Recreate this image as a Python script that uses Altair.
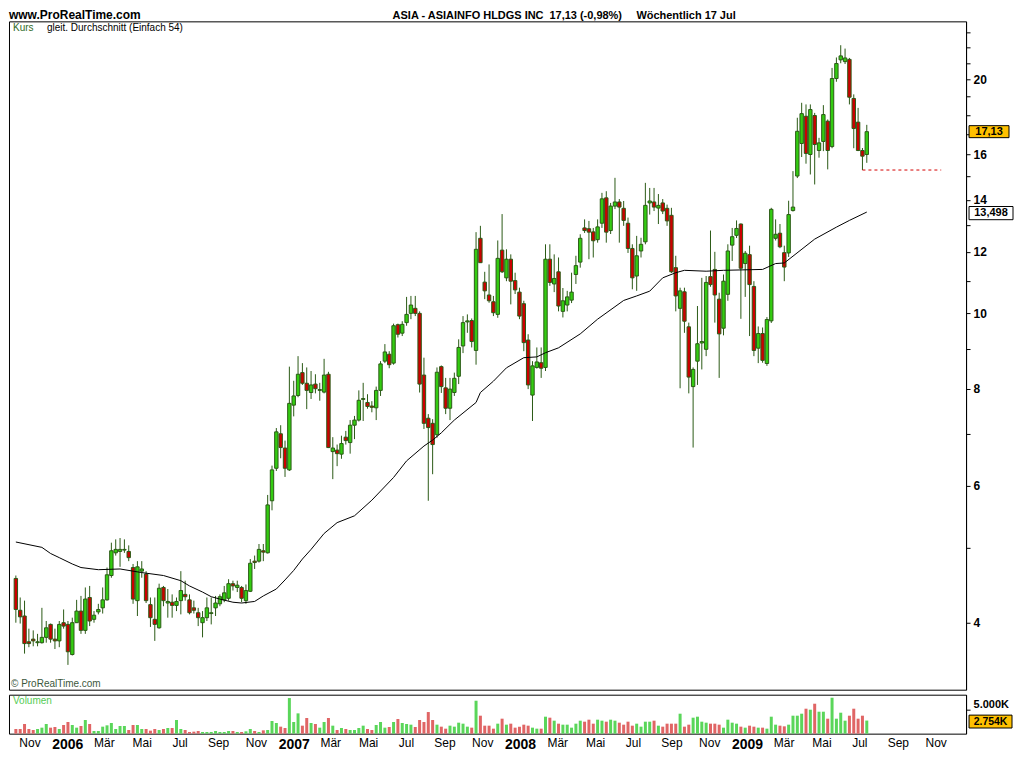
import altair as alt
import pandas as pd

# ---------------- data ----------------
last_week = "2009-07-13"

opens = [4.56, 4.15, 4.08, 3.78, 3.81, 3.77, 3.77, 3.83, 3.98, 3.81,
         3.79, 4.00, 3.98, 3.64, 4.00, 4.14, 3.91, 4.31, 4.04, 4.13,
         4.18, 4.28, 4.60, 4.92, 4.94, 4.96, 4.94, 4.71, 4.27, 4.66,
         4.62, 4.22, 4.04, 3.94, 4.44, 4.24, 4.25, 4.21, 4.27, 4.35,
         4.28, 4.18, 4.12, 4.00, 4.06, 4.11, 4.18, 4.23, 4.28, 4.30,
         4.49, 4.44, 4.44, 4.27, 4.39, 4.80, 4.80, 4.95, 4.92, 5.74,
         6.32, 7.00, 6.71, 6.29, 7.62, 7.84, 8.39, 8.13, 7.91, 8.11,
         7.96, 7.92, 8.35, 6.64, 6.67, 6.59, 6.93, 6.82, 7.18, 7.29,
         7.75, 7.68, 7.60, 7.56, 7.96, 8.68, 8.86, 8.63, 9.67, 9.43,
         9.73, 10.00, 10.15, 10.00, 8.33, 7.33, 7.22, 6.98, 8.54, 8.02,
         7.55, 7.91, 8.30, 9.08, 9.75, 9.79, 8.96, 12.49, 10.97, 10.56,
         10.35, 9.97, 12.06, 11.11, 11.74, 11.02, 10.65, 10.29, 9.24, 7.85,
         8.52, 8.64, 8.52, 11.74, 10.91, 11.31, 10.06, 10.25, 10.40, 11.22,
         11.64, 12.88, 12.85, 12.73, 12.44, 13.06, 14.08, 12.78, 13.74, 13.91,
         13.65, 13.06, 12.12, 11.17, 12.03, 12.36, 13.87, 13.91, 13.66, 13.87,
         13.65, 13.37, 11.45, 10.15, 10.66, 9.61, 8.05, 8.68, 9.16, 8.99,
         11.15, 11.39, 10.43, 9.57, 10.58, 12.24, 12.60, 13.03, 11.59, 11.90,
         10.83, 9.02, 9.42, 8.62, 9.78, 12.49, 12.68, 11.97, 11.96, 13.56,
         15.02, 16.54, 17.93, 16.01, 17.97, 16.20, 16.64, 17.67, 16.39, 20.05,
         21.19, 21.08, 21.22, 18.90, 17.62, 16.20, 16.01]

highs = [4.60, 4.31, 4.27, 3.93, 3.91, 3.87, 4.18, 4.02, 3.99, 3.93,
         4.02, 4.16, 4.02, 4.06, 4.28, 4.33, 4.44, 4.46, 4.14, 4.23,
         4.44, 4.71, 5.07, 5.12, 5.14, 5.12, 5.03, 4.76, 4.80, 4.80,
         4.66, 4.31, 4.31, 4.49, 4.46, 4.42, 4.35, 4.31, 4.66, 4.53,
         4.35, 4.27, 4.18, 4.14, 4.31, 4.31, 4.33, 4.35, 4.46, 4.55,
         4.53, 4.53, 4.46, 4.48, 4.83, 4.88, 5.05, 5.05, 5.84, 6.37,
         7.12, 7.18, 6.86, 8.54, 8.19, 8.81, 8.63, 8.52, 8.43, 8.35,
         8.14, 8.74, 8.41, 6.93, 6.78, 6.96, 7.06, 7.29, 7.38, 7.96,
         8.14, 7.87, 7.71, 8.05, 8.68, 9.13, 8.94, 9.70, 9.70, 9.77,
         10.50, 10.53, 10.53, 10.06, 8.77, 7.42, 7.31, 8.52, 8.57, 8.26,
         8.26, 8.39, 9.26, 9.92, 9.97, 9.85, 12.72, 12.96, 11.31, 11.56,
         10.53, 12.41, 13.42, 12.09, 11.91, 11.28, 10.79, 10.38, 9.40, 8.68,
         9.04, 9.04, 12.27, 12.27, 11.91, 11.80, 10.78, 10.69, 11.28, 11.86,
         12.64, 13.21, 13.15, 12.88, 13.21, 14.29, 14.36, 13.87, 14.94, 14.03,
         13.95, 13.28, 12.27, 12.58, 12.51, 14.72, 14.50, 14.50, 14.24, 14.03,
         13.80, 13.67, 11.86, 10.79, 10.79, 9.73, 8.52, 10.22, 11.11, 11.17,
         12.78, 12.00, 10.63, 11.22, 12.27, 12.88, 13.17, 13.05, 12.03, 12.22,
         11.00, 9.62, 9.59, 9.89, 13.67, 13.21, 13.03, 12.22, 13.96, 15.24,
         17.85, 18.66, 18.57, 18.57, 18.11, 16.82, 18.53, 17.76, 20.69, 21.34,
         22.13, 21.91, 21.31, 19.13, 18.38, 16.32, 17.48]

lows = [4.00, 3.99, 3.65, 3.72, 3.73, 3.73, 3.76, 3.77, 3.77, 3.70,
        3.72, 3.93, 3.53, 3.63, 4.00, 3.87, 3.87, 3.96, 4.00, 4.10,
        4.11, 4.27, 4.57, 4.88, 4.72, 4.92, 4.80, 4.23, 4.08, 4.57,
        4.24, 3.95, 3.79, 3.93, 4.20, 4.06, 4.06, 4.14, 4.10, 4.27,
        4.10, 4.11, 3.96, 3.83, 4.02, 3.98, 4.08, 4.20, 4.25, 4.27,
        4.40, 4.38, 4.25, 4.23, 4.38, 4.69, 4.78, 4.80, 4.91, 5.58,
        6.27, 6.51, 6.16, 6.27, 7.37, 7.80, 8.09, 7.53, 7.76, 7.89,
        7.72, 7.89, 6.71, 6.12, 6.36, 6.50, 6.78, 6.60, 6.89, 7.26,
        7.27, 7.54, 7.46, 7.29, 7.83, 8.63, 8.50, 8.59, 9.31, 9.35,
        9.64, 9.83, 9.92, 7.91, 7.10, 5.74, 6.21, 6.92, 7.90, 7.42,
        7.29, 7.83, 8.11, 8.89, 9.44, 9.04, 8.59, 11.61, 10.43, 10.32,
        9.92, 9.87, 11.27, 11.00, 10.27, 10.59, 9.83, 8.94, 7.99, 7.27,
        8.49, 8.26, 8.43, 10.85, 10.65, 10.06, 9.88, 10.06, 10.31, 10.91,
        11.45, 12.69, 11.74, 11.80, 12.33, 12.88, 12.33, 12.65, 13.62, 12.33,
        12.96, 11.96, 10.74, 10.69, 11.80, 12.27, 13.40, 13.54, 13.03, 13.42,
        12.96, 11.27, 10.06, 8.01, 9.44, 7.89, 6.72, 8.09, 8.47, 8.81,
        10.82, 9.73, 8.26, 9.37, 10.38, 11.68, 12.50, 9.84, 10.50, 9.35,
        8.81, 8.63, 8.64, 8.56, 9.72, 12.41, 12.13, 11.00, 11.82, 13.52,
        14.93, 15.89, 15.58, 15.09, 14.65, 15.86, 16.17, 15.32, 16.31, 19.86,
        20.98, 20.93, 18.57, 16.31, 16.17, 15.29, 15.62]

closes = [4.16, 4.07, 3.76, 3.76, 3.79, 3.78, 3.83, 3.94, 3.81, 3.79,
          3.98, 3.96, 3.67, 4.00, 4.14, 3.91, 4.29, 4.02, 4.09, 4.16,
          4.28, 4.61, 4.95, 4.97, 4.97, 4.97, 4.85, 4.29, 4.72, 4.69,
          4.27, 4.06, 3.98, 4.43, 4.27, 4.26, 4.21, 4.26, 4.40, 4.32,
          4.12, 4.15, 4.06, 4.06, 4.18, 4.12, 4.24, 4.32, 4.37, 4.49,
          4.46, 4.47, 4.30, 4.40, 4.77, 4.78, 4.97, 4.93, 5.67, 6.29,
          7.04, 6.72, 6.32, 7.66, 7.83, 8.35, 8.13, 7.96, 8.09, 8.00,
          7.98, 8.33, 6.72, 6.71, 6.60, 6.80, 6.86, 7.18, 7.29, 7.73,
          7.77, 7.59, 7.57, 7.96, 8.61, 8.92, 8.59, 9.64, 9.40, 9.68,
          9.97, 10.25, 10.00, 8.11, 7.22, 7.13, 6.78, 8.40, 8.05, 7.55,
          7.99, 8.25, 9.04, 9.73, 9.78, 9.20, 12.09, 11.62, 10.69, 10.38,
          10.02, 11.77, 11.31, 11.74, 11.00, 10.72, 9.92, 9.17, 8.09, 8.56,
          8.66, 8.50, 11.74, 10.96, 11.09, 10.22, 10.38, 10.50, 10.65, 11.52,
          12.49, 12.78, 12.72, 12.40, 12.92, 14.04, 12.72, 13.74, 13.91, 13.70,
          13.17, 12.12, 11.11, 11.86, 12.27, 13.77, 13.95, 13.70, 13.77, 13.54,
          13.15, 11.31, 10.53, 10.69, 9.77, 8.28, 8.47, 9.14, 9.20, 10.96,
          10.89, 10.56, 9.41, 11.00, 12.03, 12.55, 12.86, 11.43, 11.95, 10.89,
          8.96, 9.42, 8.70, 9.82, 13.61, 12.64, 12.18, 11.47, 13.40, 13.70,
          17.15, 18.07, 16.06, 18.29, 16.49, 16.57, 18.02, 16.20, 20.05, 20.96,
          21.44, 21.31, 18.97, 17.29, 16.20, 15.93, 17.13]

# weekly volume, in thousands of shares
volumes = [980, 980, 2030, 980, 770, 980, 1260, 2030, 1260, 1400,
           980, 1820, 2450, 1820, 1260, 1610, 2870, 2030, 560, 560,
           1470, 1750, 2240, 980, 1610, 1610, 770, 1820, 1820, 980,
           980, 630, 980, 770, 980, 1190, 1190, 2870, 980, 770,
           350, 420, 560, 350, 350, 350, 560, 350, 350, 560,
           560, 350, 350, 490, 980, 560, 350, 700, 770, 2660,
           2240, 1470, 1190, 7490, 2450, 4270, 1680, 3290, 2240, 2030,
           1260, 2450, 3290, 1680, 770, 1190, 980, 770, 770, 1190,
           1680, 980, 770, 1820, 2450, 1260, 1400, 2450, 3080, 2240,
           2030, 1890, 1400, 2870, 2450, 4550, 2870, 1890, 1470, 1050,
           1680, 1470, 2310, 2100, 1470, 1260, 6930, 3780, 1680, 1680,
           1050, 2100, 3150, 1890, 2100, 1260, 1470, 1890, 1680, 1260,
           1050, 1050, 3570, 3360, 2730, 2100, 1890, 1890, 1260, 2100,
           2730, 2520, 2940, 2100, 2940, 2730, 2520, 2940, 2730, 2310,
           1890, 2520, 1680, 2100, 1470, 2520, 2520, 2730, 1680, 1470,
           2100, 2100, 2100, 4200, 1470, 1890, 3360, 3570, 2520, 2310,
           2100, 2100, 1890, 1260, 2940, 2310, 2100, 1470, 1260, 1680,
           1470, 1260, 1260, 1050, 3570, 1890, 1680, 1540, 1890, 3780,
           3780, 4200, 5250, 5040, 6300, 4620, 4620, 3150, 7560, 3150,
           4410, 2730, 3780, 5250, 3150, 3780, 2754]

# 54-week simple moving average at these week numbers
ma_week = [0, 6, 8, 10, 13, 15, 19, 24, 29, 34,
           38, 40, 43, 45, 47, 50, 52, 55, 57, 60,
           62, 64, 66, 68, 71, 74, 78, 82, 87, 90,
           94, 96, 98, 100, 101, 106, 107, 110, 113, 117,
           120, 122, 125, 130, 134, 140, 143, 146, 149, 152,
           154, 159, 163, 172, 175, 177, 184, 189, 192, 196]
ma_value = [5.08, 5.00, 4.91, 4.85, 4.76, 4.71, 4.68, 4.69, 4.64, 4.60,
            4.53, 4.46, 4.38, 4.32, 4.29, 4.25, 4.24, 4.26, 4.33, 4.42,
            4.54, 4.67, 4.83, 4.97, 5.21, 5.38, 5.49, 5.75, 6.15, 6.46,
            6.75, 6.87, 7.02, 7.20, 7.29, 7.68, 7.91, 8.18, 8.51, 8.77,
            8.79, 8.90, 9.03, 9.41, 9.83, 10.39, 10.53, 10.68, 11.11, 11.28,
            11.36, 11.33, 11.36, 11.39, 11.59, 11.61, 12.46, 12.91, 13.17, 13.50]

last_price = 17.13
last_price_label = "17,13"
ma_last = 13.498
ma_last_label = "13,498"
last_volume_label = "2.754K"
stop_level = 15.29
stop_start = "2009-07-06"
stop_end = "2009-11-10"

header_left = "www.ProRealTime.com"
header_name = "ASIA - ASIAINFO HLDGS INC"
header_quote = "17,13 (-0,98%)"
header_period = "Wöchentlich  17 Jul"
legend_kurs = "Kurs"
legend_ma = "gleit. Durchschnitt (Einfach 54)"
copyright_text = "© ProRealTime.com"
volume_title = "Volumen"

price_ticks = list(range(4, 24))
price_labels = [4, 6, 8, 10, 12, 14, 16, 20]
month_names = ["Jan", "Feb", "Mär", "Apr", "Mai", "Jun", "Jul", "Aug", "Sep", "Okt", "Nov", "Dez"]

# ---------------- frames ----------------
n = len(closes)
dates = pd.date_range(end=last_week, periods=n, freq="7D").strftime("%Y-%m-%d").tolist()
candles = pd.DataFrame({"date": dates, "open": opens, "high": highs, "low": lows,
                        "close": closes, "volume": volumes})
ma = pd.DataFrame({"date": [dates[i] for i in ma_week], "ma": ma_value})

# ---------------- style ----------------
FONT = "Liberation Sans"
DARK = "#2b5a16"
GREEN = "#33cc11"
RED = "#cc0000"
VGREEN = "#5ad65a"
VRED = "#e06565"
ORANGE = "#ffc000"
W = 958
H_MAIN = 669
H_VOL = 39

x_dom = [alt.DateTime(year=2005, month=10, date=7, utc=True),
         alt.DateTime(year=2009, month=12, date=12, utc=True)]
xscale = alt.Scale(type="utc", domain=x_dom)
yscale = alt.Scale(type="log", domain=[3.28, 23.75], nice=False, zero=False)
vscale = alt.Scale(domain=[0, 8200], nice=False, zero=True)

up = "datum.close >= datum.open"

month_ticks = []
for y in range(2005, 2010):
    for m in (1, 3, 5, 7, 9, 11):
        if y == 2005 and m < 11:
            continue
        month_ticks.append(alt.DateTime(year=y, month=m, date=1, utc=True))

label_list = "[" + ",".join(str(v) for v in price_labels) + "]"
y_axis = alt.Axis(orient="right", values=price_ticks, title=None, grid=False,
                  labelExpr=f"indexof({label_list}, datum.value) >= 0 ? datum.label : ''",
                  tickSize=4, tickColor="black", domainColor="black",
                  labelFont=FONT, labelFontWeight="bold", labelFontSize=12,
                  labelColor="black", labelPadding=3, labelOverlap=False)

vol_axis = alt.Axis(orient="right", values=[5000], labelExpr="'5.000K'", title=None, grid=False,
                    tickSize=4, tickColor="black", domainColor="black", labelFont=FONT,
                    labelFontWeight="bold", labelFontSize=11, labelColor="black", labelPadding=3,
                    labelOverlap=False, labelBaseline="bottom")

X = alt.X("date:T", scale=xscale, axis=None)

wick = alt.Chart(candles).mark_rule(color=DARK, strokeWidth=1).encode(
    x=X, y=alt.Y("low:Q", scale=yscale, axis=y_axis), y2="high:Q")

body = alt.Chart(candles).mark_bar(width=3.4, stroke=DARK, strokeWidth=1).encode(
    x=X, y=alt.Y("open:Q", scale=yscale, axis=y_axis), y2="close:Q",
    color=alt.condition(up, alt.value(GREEN), alt.value(RED)))

ma_line = alt.Chart(ma).mark_line(color="black", strokeWidth=1).encode(
    x=X, y=alt.Y("ma:Q", scale=yscale, axis=y_axis))

stop = alt.Chart(pd.DataFrame({"s": [stop_start], "e": [stop_end], "v": [stop_level]})).mark_rule(
    color="#d40000", strokeDash=[3, 3], strokeWidth=1).encode(
    x=alt.X("s:T", scale=xscale, axis=None), x2="e:T",
    y=alt.Y("v:Q", scale=yscale, axis=y_axis))


def tag(value, label, fill, width, yscl, axis, size=11, dy=0):
    d = pd.DataFrame({"v": [value], "t": [label]})
    box = alt.Chart(d).mark_point(shape="M-1,-0.3H1V0.3H-1Z", size=width * width, filled=True,
                                  fill=fill, stroke="black", strokeWidth=1, opacity=1,
                                  yOffset=dy).encode(
        x=alt.value(W + 3 + width / 2), y=alt.Y("v:Q", scale=yscl, axis=axis))
    txt = alt.Chart(d).mark_text(font=FONT, fontWeight="bold", fontSize=size, color="black",
                                 baseline="middle", align="center", yOffset=dy).encode(
        x=alt.value(W + 3 + width / 2), y=alt.Y("v:Q", scale=yscl, axis=axis), text="t:N")
    return box + txt


def label(text, x, y, size=10, color="black", weight="normal", baseline="middle"):
    return alt.Chart(pd.DataFrame({"t": [text]})).mark_text(
        font=FONT, fontSize=size, color=color, fontWeight=weight,
        align="left", baseline=baseline).encode(
        x=alt.value(x), y=alt.value(y), text="t:N")


main = alt.layer(
    wick, body, ma_line, stop,
    tag(last_price, last_price_label, ORANGE, 40, yscale, y_axis),
    tag(ma_last, ma_last_label, "white", 44, yscale, y_axis, dy=1),
    label(legend_kurs, 4, 7, 10, "#2f6a1f"),
    label(legend_ma, 38, 7, 10, "black"),
    label(copyright_text, 2, H_MAIN - 6, 10, "#3c573c"),
    label(header_left, 0, -11, 12, "black", "bold", "top"),
    label(header_name, 384, -11, 11, "black", "bold", "top"),
    label(header_quote, 541, -11, 11, "black", "bold", "top"),
    label(header_period, 628, -11, 11, "black", "bold", "top"),
).properties(width=W, height=H_MAIN)

x_axis = alt.Axis(
    values=month_ticks, title=None, grid=False, ticks=False, domain=False,
    labelExpr="utcmonth(datum.value) === 0 ? utcFormat(datum.value, '%Y') : "
              + "[" + ",".join(f"'{m}'" for m in month_names) + "][utcmonth(datum.value)]",
    labelFont=FONT, labelColor="black", labelPadding=4, labelOverlap=False, labelFlush=False,
    labelFontWeight={"condition": {"test": "utcmonth(datum.value) === 0", "value": "bold"}, "value": "normal"},
    labelFontSize={"condition": {"test": "utcmonth(datum.value) === 0", "value": 14}, "value": 12})

vol_bars = alt.Chart(candles).mark_bar(width=3).encode(
    x=alt.X("date:T", scale=xscale, axis=x_axis),
    y=alt.Y("volume:Q", scale=vscale, axis=vol_axis),
    color=alt.condition(up, alt.value(VGREEN), alt.value(VRED)))

vol = alt.layer(
    vol_bars,
    tag(volumes[-1], last_volume_label, ORANGE, 43, vscale, vol_axis, size=10.5, dy=1),
    label(volume_title, 4, 6, 10, "#55cc55"),
).properties(width=W, height=H_VOL)

chart = alt.vconcat(main, vol, spacing=3).properties(
    padding={"left": 0, "top": 0, "right": 0, "bottom": 0}
).configure(font=FONT).configure_view(stroke="black", strokeWidth=1)

chart.save("out.html", embed_options={"renderer": "svg", "actions": False})
